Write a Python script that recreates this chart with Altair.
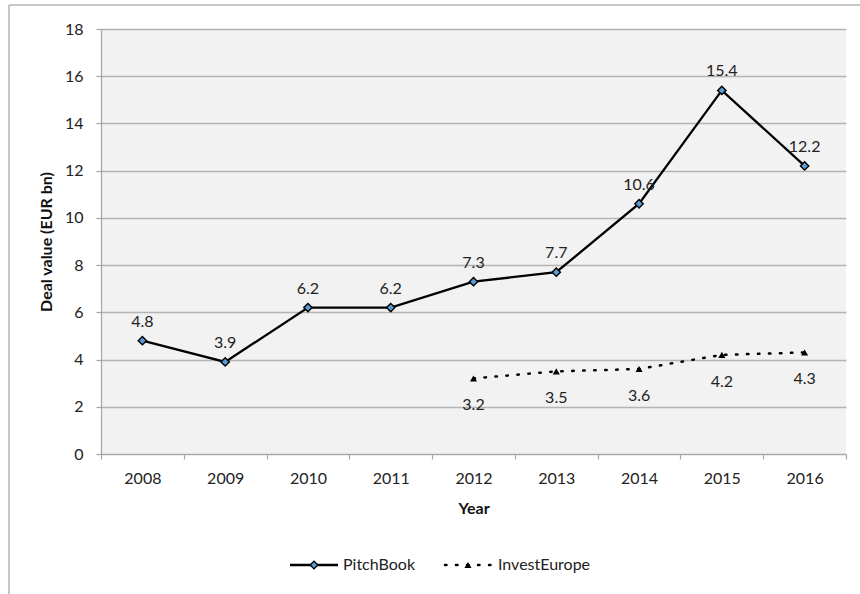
import altair as alt
import pandas as pd

# Deal value by year, EUR bn
years = ["2008", "2009", "2010", "2011", "2012", "2013", "2014", "2015", "2016"]
pitchbook = [4.8, 3.9, 6.2, 6.2, 7.3, 7.7, 10.6, 15.4, 12.2]
investeurope_years = ["2012", "2013", "2014", "2015", "2016"]
investeurope = [3.2, 3.5, 3.6, 4.2, 4.3]
series_names = ["PitchBook", "InvestEurope"]

FONT = "Lato"
FS = 16
W, H = 745, 425

pb = pd.DataFrame({"Year": years, "value": pitchbook})
ie = pd.DataFrame({"Year": investeurope_years, "value": investeurope})

x_enc = alt.X(
    "Year:O",
    sort=years,
    scale=alt.Scale(type="band", domain=years, paddingInner=0, paddingOuter=0),
    axis=alt.Axis(
        title="Year", tickBand="extent", labelAngle=0, grid=False,
        tickSize=5, labelPadding=11, titlePadding=14,
    ),
)
y_enc = alt.Y(
    "value:Q",
    scale=alt.Scale(domain=[0, 18]),
    axis=alt.Axis(
        title="Deal value (EUR bn)", values=list(range(0, 19, 2)),
        tickSize=5, labelPadding=13, titlePadding=10, grid=True,
    ),
)

pb_line = alt.Chart(pb).mark_line(color="black", strokeWidth=2.3).encode(x=x_enc, y=y_enc)
pb_pts = alt.Chart(pb).mark_point(
    shape="diamond", filled=True, fill="#5b9bd5", stroke="black",
    strokeWidth=1.4, size=70, opacity=1,
).encode(x=x_enc, y=y_enc)
pb_lbl = alt.Chart(pb).mark_text(
    dy=-19, fontSize=FS, font=FONT, color="#222"
).encode(x=x_enc, y=y_enc, text=alt.Text("value:Q", format=".1f"))

ie_line = alt.Chart(ie).mark_line(
    color="black", strokeWidth=2.5, strokeDash=[1.5, 9.5], strokeCap="round"
).encode(x=x_enc, y=y_enc)
ie_pts = alt.Chart(ie).mark_point(
    shape="triangle-up", filled=True, color="black", size=50, opacity=1
).encode(x=x_enc, y=y_enc)
ie_lbl = alt.Chart(ie).mark_text(
    dy=27, fontSize=FS, font=FONT, color="#222"
).encode(x=x_enc, y=y_enc, text=alt.Text("value:Q", format=".1f"))

# Outer chart frame (left and top edges)
frame_src = pd.DataFrame({"k": [0]})
frame_left = alt.Chart(frame_src).mark_rule(color="#b4b4b4", strokeWidth=1.5).encode(
    x=alt.value(-92), y=alt.value(-24), y2=alt.value(H + 200)
)
frame_top = alt.Chart(frame_src).mark_rule(color="#b4b4b4", strokeWidth=1.5).encode(
    x=alt.value(-92), x2=alt.value(W + 100), y=alt.value(-24)
)

# Legend below the plot
leg = pd.DataFrame({"series": series_names})
LY = 536
leg_pb = leg[leg.series == "PitchBook"]
leg_ie = leg[leg.series == "InvestEurope"]
leg_pb_line = alt.Chart(leg_pb).mark_rule(color="black", strokeWidth=2.3).encode(
    x=alt.value(189), x2=alt.value(237), y=alt.value(LY)
)
leg_pb_pt = alt.Chart(leg_pb).mark_point(
    shape="diamond", filled=True, fill="#5b9bd5", stroke="black",
    strokeWidth=1.4, size=60, opacity=1,
).encode(x=alt.value(213), y=alt.value(LY))
leg_pb_txt = alt.Chart(leg_pb).mark_text(
    align="left", baseline="middle", fontSize=FS, font=FONT, color="#222"
).encode(x=alt.value(242), y=alt.value(LY), text="series:N")
leg_ie_line = alt.Chart(leg_ie).mark_rule(
    color="black", strokeWidth=2.5, strokeDash=[1.5, 9.5], strokeCap="round"
).encode(x=alt.value(344), x2=alt.value(390), y=alt.value(LY))
leg_ie_pt = alt.Chart(leg_ie).mark_point(
    shape="triangle-up", filled=True, color="black", size=50, opacity=1
).encode(x=alt.value(367), y=alt.value(LY))
leg_ie_txt = alt.Chart(leg_ie).mark_text(
    align="left", baseline="middle", fontSize=FS, font=FONT, color="#222"
).encode(x=alt.value(397), y=alt.value(LY), text="series:N")

chart = alt.layer(
    frame_left, frame_top,
    pb_line, ie_line, pb_pts, ie_pts, pb_lbl, ie_lbl,
    leg_pb_line, leg_pb_pt, leg_pb_txt, leg_ie_line, leg_ie_pt, leg_ie_txt,
).properties(
    width=W, height=H,
    autosize=alt.AutoSizeParams(type="none"),
    padding={"left": 101, "top": 29, "right": 14, "bottom": 140},
    background="white",
).configure_view(
    fill="#f2f2f2", stroke=None,
).configure_axis(
    labelFont=FONT, titleFont=FONT, labelFontSize=FS, titleFontSize=FS,
    labelColor="#222", titleColor="#111", titleFontWeight="bold",
    domainColor="#a6a6a6", tickColor="#a6a6a6", gridColor="#b4b4b4",
    domainWidth=1.2, tickWidth=1.2, gridWidth=1.3,
)

chart.save("out.html", embed_options={"renderer": "svg", "actions": False})
